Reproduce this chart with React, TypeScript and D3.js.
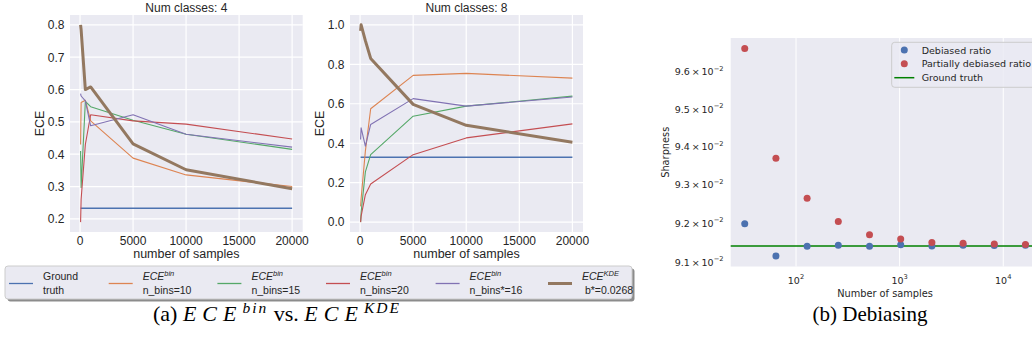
import React, { useEffect, useRef } from 'react';
import * as d3 from 'd3';

// ---- data: panel (a), ECE vs number of samples ----
const SAMPLES = [50, 100, 500, 1000, 5000, 10000, 20000];

const GT_4 = [0.233, 0.233, 0.233, 0.233, 0.233, 0.233, 0.233];
const BIN10_4 = [0.43, 0.56, 0.567, 0.503, 0.388, 0.336, 0.3];
const BIN15_4 = [0.41, 0.297, 0.563, 0.547, 0.505, 0.462, 0.415];
const BIN20_4 = [0.19, 0.26, 0.43, 0.522, 0.503, 0.493, 0.447];
const BINSTAR_4 = [0.587, 0.58, 0.565, 0.488, 0.522, 0.462, 0.422];
const KDE_4 = [0.8, 0.785, 0.6, 0.608, 0.432, 0.352, 0.293];

const GT_8 = [0.329, 0.329, 0.329, 0.329, 0.329, 0.329, 0.329];
const BIN10_8 = [0.08, 0.12, 0.36, 0.575, 0.744, 0.754, 0.73];
const BIN15_8 = [0.0, 0.05, 0.255, 0.342, 0.537, 0.588, 0.639];
const BIN20_8 = [0.0, 0.03, 0.139, 0.193, 0.342, 0.427, 0.498];
const BINSTAR_8 = [0.419, 0.478, 0.385, 0.495, 0.626, 0.588, 0.634];
const KDE_8 = [0.97, 1.0, 0.92, 0.83, 0.597, 0.491, 0.405];

const ECE_X_TICKS = [0, 5000, 10000, 15000, 20000];
const ECE_Y_TICKS_4 = [0.2, 0.3, 0.4, 0.5, 0.6, 0.7, 0.8];
const ECE_Y_TICKS_8 = [0.0, 0.2, 0.4, 0.6, 0.8, 1.0];

// ---- data: panel (b), debiasing ----
const N_SAMPLES = [32, 64, 128, 256, 512, 1024, 2048, 4096, 8192, 16384];
const DEBIASED = [0.09199, 0.09116, 0.09141, 0.09144, 0.09141, 0.09145, 0.09142, 0.09144, 0.09143, 0.09144];
const PARTIAL = [0.09663, 0.0937, 0.09265, 0.09205, 0.09171, 0.0916, 0.09151, 0.09149, 0.09147, 0.09146];
const SHARP_TRUTH = 0.09142;
const SHARP_Y_TICKS = [0.091, 0.092, 0.093, 0.094, 0.095, 0.096];
const SHARP_Y_LABELS = ['9.1', '9.2', '9.3', '9.4', '9.5', '9.6'];
const SHARP_X_TICKS = [100, 1000, 10000];
const SHARP_X_EXP = ['2', '3', '4'];

const COLORS = ['#4c72b0', '#dd8452', '#55a868', '#c44e52', '#8172b3', '#937860'];
const BG = '#eaeaf2';
const TXT = '#262626';
const SANS = "'Liberation Sans', Arial, sans-serif";
const DEJAVU = "'DejaVu Sans', sans-serif";
const SERIF = "'Liberation Serif', 'Times New Roman', serif";

const LEGEND_A = [
  { top: 'Ground', bottom: 'truth', sup: null },
  { top: 'ECE', sup: 'bin', bottom: 'n_bins=10' },
  { top: 'ECE', sup: 'bin', bottom: 'n_bins=15' },
  { top: 'ECE', sup: 'bin', bottom: 'n_bins=20' },
  { top: 'ECE', sup: 'bin', bottom: 'n_bins*=16' },
  { top: 'ECE', sup: 'KDE', bottom: ' b*=0.0268' },
];

const padDomain = (lo, hi) => [lo - 0.05 * (hi - lo), hi + 0.05 * (hi - lo)];

const drawEcePanel = (svg, box, series, yTicks, title) => {
  const all = series.flat();
  const x = d3.scaleLinear().domain(padDomain(d3.min(SAMPLES), d3.max(SAMPLES))).range([box.left, box.right]);
  const y = d3.scaleLinear().domain(padDomain(d3.min(all), d3.max(all))).range([box.bottom, box.top]);

  const g = svg.append('g');
  g.append('rect')
    .attr('x', box.left).attr('y', box.top)
    .attr('width', box.right - box.left).attr('height', box.bottom - box.top)
    .attr('fill', BG);

  // grid
  g.selectAll('.gx').data(ECE_X_TICKS).join('line')
    .attr('x1', (d) => x(d)).attr('x2', (d) => x(d))
    .attr('y1', box.top).attr('y2', box.bottom)
    .attr('stroke', '#fff').attr('stroke-width', 1.2);
  g.selectAll('.gy').data(yTicks).join('line')
    .attr('y1', (d) => y(d)).attr('y2', (d) => y(d))
    .attr('x1', box.left).attr('x2', box.right)
    .attr('stroke', '#fff').attr('stroke-width', 1.2);

  // tick labels
  g.selectAll('.tx').data(ECE_X_TICKS).join('text')
    .attr('x', (d) => x(d)).attr('y', box.bottom + 12.5)
    .attr('text-anchor', 'middle').attr('font-family', SANS).attr('font-size', 12).attr('fill', TXT)
    .text((d) => d);
  g.selectAll('.ty').data(yTicks).join('text')
    .attr('x', box.left - 5.5).attr('y', (d) => y(d) + 4.3)
    .attr('text-anchor', 'end').attr('font-family', SANS).attr('font-size', 12).attr('fill', TXT)
    .text((d) => d3.format('.1f')(d));

  g.append('text')
    .attr('x', (box.left + box.right) / 2).attr('y', 12)
    .attr('text-anchor', 'middle').attr('font-family', SANS).attr('font-size', 12).attr('fill', TXT)
    .text(title);
  g.append('text')
    .attr('x', (box.left + box.right) / 2).attr('y', box.bottom + 26)
    .attr('text-anchor', 'middle').attr('font-family', SANS).attr('font-size', 12.5).attr('fill', TXT)
    .text('number of samples');
  g.append('text')
    .attr('transform', `translate(${box.left - 26},${(box.top + box.bottom) / 2}) rotate(-90)`)
    .attr('text-anchor', 'middle').attr('font-family', SANS).attr('font-size', 12.5).attr('fill', TXT)
    .text('ECE');

  const line = d3.line().x((d, i) => x(SAMPLES[i])).y((d) => y(d));
  series.forEach((s, i) => {
    g.append('path')
      .datum(s)
      .attr('d', line)
      .attr('fill', 'none')
      .attr('stroke', COLORS[i])
      .attr('stroke-width', i === 5 ? 3 : i === 0 ? 1.3 : 1.1)
      .attr('stroke-linejoin', 'round');
  });
};

const App = () => {
  const svgRef = useRef();

  useEffect(() => {
    const svg = d3.select(svgRef.current);
    svg.selectAll('*').remove();

    drawEcePanel(svg, { left: 70, right: 302.7, top: 15, bottom: 232 },
      [GT_4, BIN10_4, BIN15_4, BIN20_4, BINSTAR_4, KDE_4], ECE_Y_TICKS_4, 'Num classes: 4');
    drawEcePanel(svg, { left: 350, right: 583, top: 15, bottom: 232 },
      [GT_8, BIN10_8, BIN15_8, BIN20_8, BINSTAR_8, KDE_8], ECE_Y_TICKS_8, 'Num classes: 8');

    // legend (a)
    const lg = svg.append('g');
    lg.append('rect').attr('x', 7.5).attr('y', 268.5).attr('width', 627).attr('height', 33)
      .attr('rx', 3).attr('fill', '#000').attr('opacity', 0.45);
    lg.append('rect').attr('x', 5).attr('y', 266).attr('width', 627).attr('height', 33)
      .attr('rx', 3).attr('fill', BG).attr('stroke', '#cccccc').attr('stroke-width', 1);
    const legX = [9, 108.7, 217.4, 326, 435.6, 548];
    LEGEND_A.forEach((e, i) => {
      lg.append('line')
        .attr('x1', legX[i]).attr('x2', legX[i] + 24)
        .attr('y1', 283.5).attr('y2', 283.5)
        .attr('stroke', COLORS[i]).attr('stroke-width', i === 5 ? 3 : 1.3);
      const tx = legX[i] + 34;
      const t1 = lg.append('text').attr('x', tx).attr('y', 280)
        .attr('font-family', SANS).attr('font-size', 10.5).attr('fill', TXT);
      if (e.sup) {
        t1.append('tspan').attr('font-style', 'italic').text(e.top);
        t1.append('tspan').attr('font-style', 'italic').attr('font-size', 7.5).attr('dy', -4).text(e.sup);
      } else {
        t1.text(e.top);
      }
      lg.append('text').attr('x', tx).attr('y', 294)
        .attr('font-family', SANS).attr('font-size', 10.5).attr('fill', TXT)
        .attr('xml:space', 'preserve')
        .text(e.bottom);
    });

    // panel (b)
    const box = { left: 730.7, right: 1039.5, top: 38, bottom: 266.5 };
    const lx = d3.scaleLog()
      .domain(padDomain(Math.log10(d3.min(N_SAMPLES)), Math.log10(d3.max(N_SAMPLES))).map((v) => 10 ** v))
      .range([box.left, box.right]);
    const allY = [...DEBIASED, ...PARTIAL];
    const ly = d3.scaleLog()
      .domain(padDomain(Math.log10(d3.min(allY)), Math.log10(d3.max(allY))).map((v) => 10 ** v))
      .range([box.bottom, box.top]);

    const gb = svg.append('g');
    gb.append('rect')
      .attr('x', box.left).attr('y', box.top)
      .attr('width', box.right - box.left).attr('height', box.bottom - box.top)
      .attr('fill', BG);
    gb.selectAll('.gx').data(SHARP_X_TICKS).join('line')
      .attr('x1', (d) => lx(d)).attr('x2', (d) => lx(d))
      .attr('y1', box.top).attr('y2', box.bottom)
      .attr('stroke', '#fff').attr('stroke-width', 1);

    SHARP_X_TICKS.forEach((d, i) => {
      const t = gb.append('text').attr('x', lx(d)).attr('y', 283.5)
        .attr('text-anchor', 'middle').attr('font-family', DEJAVU).attr('font-size', 9.5).attr('fill', TXT);
      t.append('tspan').text('10');
      t.append('tspan').attr('font-size', 6.7).attr('dy', -4.5).text(SHARP_X_EXP[i]);
    });
    SHARP_Y_TICKS.forEach((d, i) => {
      const t = gb.append('text').attr('x', 723.5).attr('y', ly(d) + 3.5)
        .attr('text-anchor', 'end').attr('font-family', DEJAVU).attr('font-size', 9.5).attr('fill', TXT);
      t.append('tspan').text(`${SHARP_Y_LABELS[i]}\u2009×\u200910`);
      t.append('tspan').attr('font-size', 6.7).attr('dy', -4.5).text('\u22122');
    });
    gb.append('text')
      .attr('x', 885).attr('y', 296.5)
      .attr('text-anchor', 'middle').attr('font-family', DEJAVU).attr('font-size', 9.8).attr('fill', TXT)
      .text('Number of samples');
    gb.append('text')
      .attr('transform', `translate(${668.5},${(box.top + box.bottom) / 2}) rotate(-90)`)
      .attr('text-anchor', 'middle').attr('font-family', DEJAVU).attr('font-size', 9.8).attr('fill', TXT)
      .text('Sharpness');

    gb.append('line')
      .attr('x1', box.left).attr('x2', box.right)
      .attr('y1', ly(SHARP_TRUTH)).attr('y2', ly(SHARP_TRUTH))
      .attr('stroke', '#008000').attr('stroke-width', 1.5);
    gb.selectAll('.deb').data(DEBIASED).join('circle')
      .attr('cx', (d, i) => lx(N_SAMPLES[i])).attr('cy', (d) => ly(d))
      .attr('r', 3.5).attr('fill', COLORS[0]);
    gb.selectAll('.par').data(PARTIAL).join('circle')
      .attr('cx', (d, i) => lx(N_SAMPLES[i])).attr('cy', (d) => ly(d))
      .attr('r', 3.5).attr('fill', COLORS[3]);

    // legend (b)
    gb.append('rect').attr('x', 891.7).attr('y', 42.3).attr('width', 200).attr('height', 45)
      .attr('rx', 3).attr('fill', BG).attr('fill-opacity', 0.8).attr('stroke', '#cccccc').attr('stroke-width', 1);
    gb.append('circle').attr('cx', 904.3).attr('cy', 50).attr('r', 3.5).attr('fill', COLORS[0]);
    gb.append('circle').attr('cx', 904.3).attr('cy', 63.7).attr('r', 3.5).attr('fill', COLORS[3]);
    gb.append('line').attr('x1', 894.3).attr('x2', 914.3).attr('y1', 77.7).attr('y2', 77.7)
      .attr('stroke', '#008000').attr('stroke-width', 1.5);
    ['Debiased ratio', 'Partially debiased ratio', 'Ground truth'].forEach((s, i) => {
      gb.append('text').attr('x', 921.7).attr('y', [53.5, 67.2, 81.2][i])
        .attr('font-family', DEJAVU).attr('font-size', 9.5).attr('fill', TXT).text(s);
    });

    // captions
    const ca = svg.append('text').attr('x', 153).attr('y', 321)
      .attr('font-family', SERIF).attr('font-size', 22).attr('fill', '#000')
      .attr('xml:space', 'preserve');
    ca.append('tspan').text('(a) ');
    ca.append('tspan').attr('font-style', 'italic').attr('letter-spacing', 6).text('ECE');
    ca.append('tspan').attr('font-style', 'italic').attr('font-size', 15.5).attr('letter-spacing', 2).attr('dy', -8).text('bin');
    ca.append('tspan').attr('dy', 8).text(' vs. ');
    ca.append('tspan').attr('font-style', 'italic').attr('letter-spacing', 6).text('ECE');
    ca.append('tspan').attr('font-style', 'italic').attr('font-size', 15.5).attr('letter-spacing', 2).attr('dy', -8).text('KDE');

    svg.append('text').attr('x', 870).attr('y', 321)
      .attr('text-anchor', 'middle').attr('font-family', SERIF).attr('font-size', 21).attr('fill', '#000')
      .text('(b) Debiasing');
  }, []);

  return (
    <div style={{ position: 'absolute', left: 0, top: 0 }}>
      <svg ref={svgRef} width={1032} height={345} style={{ display: 'block', background: '#fff' }}></svg>
    </div>
  );
};

export default App;
